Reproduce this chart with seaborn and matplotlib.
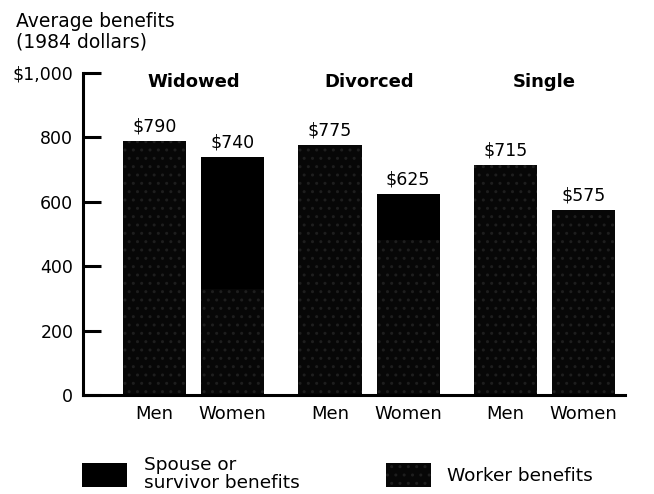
import matplotlib
matplotlib.use("Agg")
import matplotlib.pyplot as plt
from matplotlib.patches import Patch
import seaborn as sns
import pandas as pd

# ---- data ----
groups = ["Widowed", "Divorced", "Single"]
sexes = ["Men", "Women", "Men", "Women", "Men", "Women"]
positions = [0.0, 1.0, 2.25, 3.25, 4.5, 5.5]
totals = [790, 740, 775, 625, 715, 575]
worker = [790, 330, 775, 480, 715, 575]
spouse = [0, 410, 0, 145, 0, 0]
value_labels = ["$790", "$740", "$775", "$625", "$715", "$575"]
ytick_values = [0, 200, 400, 600, 800, 1000]
ytick_labels = ["0", "200", "400", "600", "800", "$1,000"]

sns.set_theme(style="white")
plt.rcParams["font.family"] = ["DejaVu Sans"]
plt.rcParams["hatch.linewidth"] = 1.0
for k in ["text.color", "axes.labelcolor", "xtick.color", "ytick.color"]:
    plt.rcParams[k] = "black"

df = pd.DataFrame({"pos": positions, "total": totals, "worker": worker,
                   "spouse": spouse})

fig = plt.figure(figsize=(6.54, 4.94), dpi=100)
ax = fig.add_axes([83 / 654, 1 - 395 / 494, 542 / 654, 322 / 494])

spouse_color = "#000000"
worker_color = "#070707"
speckle_color = "#1e1e1e"

# full bar (spouse on top of worker)
sns.barplot(data=df, x="pos", y="total", native_scale=True, width=0.81,
            color=spouse_color, saturation=1, errorbar=None, ax=ax,
            linewidth=0)
# worker portion from the bottom
sns.barplot(data=df, x="pos", y="worker", native_scale=True, width=0.81,
            color=worker_color, saturation=1, errorbar=None, ax=ax,
            linewidth=0)
for p in ax.patches[len(df):]:
    p.set_hatch("..")
    p.set_edgecolor(speckle_color)
    p.set_linewidth(0)

ax.set_xlim(-0.917, 6.03)
ax.set_ylim(0, 1000)

ax.set_xticks(positions)
ax.set_xticklabels(sexes, fontsize=13)
ax.tick_params(axis="x", length=0, pad=7, colors="black")
ax.set_yticks(ytick_values)
ax.set_yticklabels(ytick_labels, fontsize=12.5)
ax.tick_params(axis="y", direction="in", length=13, width=2.2, pad=7,
               colors="black", left=True)
ax.set_xlabel("")
ax.set_ylabel("")

for s in ["top", "right"]:
    ax.spines[s].set_visible(False)
for s in ["left", "bottom"]:
    ax.spines[s].set_color("black")
    ax.spines[s].set_linewidth(2.2)

# value labels
for x, t, lab in zip(positions, totals, value_labels):
    ax.annotate(lab, (x, t), xytext=(0, 4), textcoords="offset points",
                ha="center", va="bottom", fontsize=12.5, color="black")

# group labels
for i, g in enumerate(groups):
    cx = (positions[2 * i] + positions[2 * i + 1]) / 2
    ax.text(cx, 972, g, ha="center", va="center", fontsize=13,
            fontweight="bold", color="black")

# axis title
fig.text(16 / 654, 1 - 27 / 494, "Average benefits", fontsize=13.5,
         ha="left", va="baseline", color="black")
fig.text(16 / 654, 1 - 47 / 494, "(1984 dollars)", fontsize=13.5,
         ha="left", va="baseline", color="black")

# legend
handles = [
    Patch(facecolor=spouse_color, edgecolor=spouse_color, linewidth=0,
          label="Spouse or\nsurvivor benefits"),
    Patch(facecolor=worker_color, edgecolor=speckle_color, hatch="..",
          linewidth=0, label="Worker benefits"),
]
leg = fig.legend(handles=handles, ncol=2, loc="upper left",
                 bbox_to_anchor=(82 / 654, 1 - 456 / 494), frameon=False,
                 fontsize=13.3, handlelength=2.45, handleheight=1.6,
                 handletextpad=0.9, columnspacing=4.65, borderpad=0,
                 borderaxespad=0, labelspacing=0)
for t in leg.get_texts():
    t.set_color("black")
    t.set_linespacing(1.0)

fig.savefig("out.png", dpi=100)
